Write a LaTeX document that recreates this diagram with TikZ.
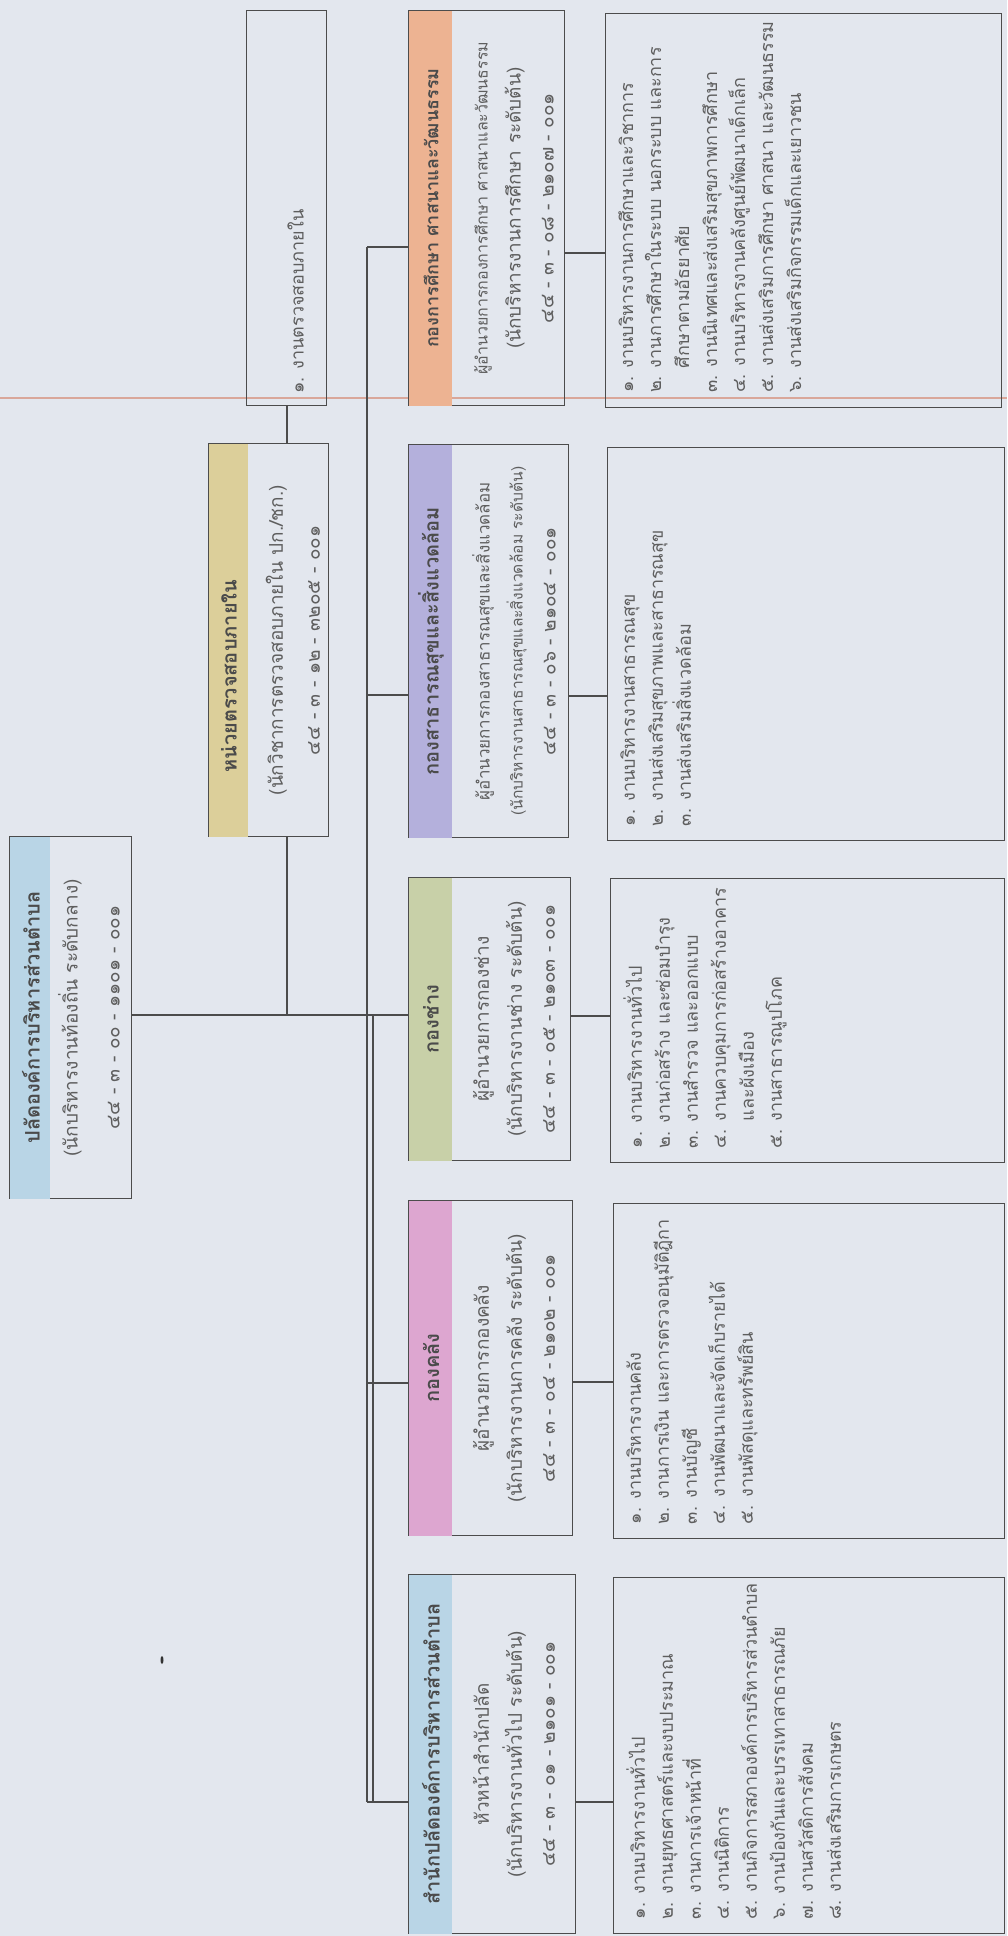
\documentclass[tikz,border=0pt]{standalone}
\usepackage{fontspec}
\newfontfamily\thaifont[Script=Thai]{Loma}
\usetikzlibrary{positioning,calc}

\definecolor{paper}{HTML}{E3E7EE}
\definecolor{ink}{HTML}{5E5E5E}
\definecolor{rule}{HTML}{4C4C4C}
\definecolor{fold}{HTML}{D9A79A}
\definecolor{bandblue}{HTML}{B9D5E6}
\definecolor{bandyellow}{HTML}{DCCF9A}
\definecolor{bandpink}{HTML}{DDA6D0}
\definecolor{bandgreen}{HTML}{C8D0A8}
\definecolor{bandpurple}{HTML}{B4B0DC}
\definecolor{bandorange}{HTML}{EDB392}

\begin{document}
\begin{tikzpicture}[x=0.5pt,y=-0.5pt,
    box/.style={draw=rule, line width=0.7pt, inner sep=0pt, anchor=north west},
    title/.style={rotate=90, font=\thaifont\fontsize{10}{12}\selectfont\bfseries, text=ink!80!black},
    body/.style={rotate=90, font=\thaifont\fontsize{9.5}{16.5}\selectfont, text=ink, align=center},
    tasks/.style={rotate=90, font=\thaifont\fontsize{9}{14}\selectfont, text=ink, align=left, anchor=north west, inner sep=0pt},
    link/.style={draw=rule, line width=0.7pt}]

    \fill[paper] (0,0) rectangle (1007,1936);
    \useasboundingbox (0,0) rectangle (1007,1936);
    \draw[fold, line width=0.6pt] (0,398) -- (1007,398);
    \fill[black!80] (162,1660) ellipse (1.5 and 4);

    % top box
    \node[box, minimum width=61pt, minimum height=181pt] (palat) at (9,836) {};
    \fill[bandblue] ([shift={(0.35pt,-0.35pt)}]palat.north west) rectangle ([shift={(20.5pt,0.35pt)}]palat.south west);
    \node[title] (palatT) at (palat.west -| 31,0) {ปลัดองค์การบริหารส่วนตำบล};
    \node[body, font=\thaifont\fontsize{9.5}{21}\selectfont] (palatB) at (palat.west -| 89,0) {(นักบริหารงานท้องถิ่น ระดับกลาง)\\๔๔ - ๓ - ๐๐ - ๑๑๐๑ - ๐๐๑};

    % internal audit
    \node[box, minimum width=60pt, minimum height=196.5pt] (audit) at (208,443) {};
    \fill[bandyellow] ([shift={(0.35pt,-0.35pt)}]audit.north west) rectangle ([shift={(20pt,0.35pt)}]audit.south west);
    \node[title] (auditT) at ([yshift=-18pt]audit.west -| 229,0) {หน่วยตรวจสอบภายใน};
    \node[body, font=\thaifont\fontsize{9.5}{18.5}\selectfont] (auditB) at (audit.west -| 293,0) {(นักวิชาการตรวจสอบภายใน ปก./ชก.)\\๔๔ - ๓ - ๑๒ - ๓๒๐๕ - ๐๐๑};
    \node[box, minimum width=40pt, minimum height=197.5pt] (auditjob) at (246,10) {};
    \node[tasks] (auditjobT) at ([shift={(14,-12)}]auditjob.south west -| 273,0) {๑. งานตรวจสอบภายใน};

    % departments
    \node[box, minimum width=78pt, minimum height=197.5pt] (edu) at (408,10) {};
    \node[box, minimum width=80pt, minimum height=196.5pt] (health) at (408,444) {};
    \node[box, minimum width=81pt, minimum height=141.5pt] (works) at (408,877) {};
    \node[box, minimum width=82pt, minimum height=167.5pt] (finance) at (408,1200) {};
    \node[box, minimum width=83.5pt, minimum height=179.5pt] (office) at (408,1574) {};

    \fill[bandorange] ([shift={(0.35pt,-0.35pt)}]edu.north west) rectangle ([shift={(22pt,0.35pt)}]edu.south west);
    \fill[bandpurple] ([shift={(0.35pt,-0.35pt)}]health.north west) rectangle ([shift={(22pt,0.35pt)}]health.south west);
    \fill[bandgreen] ([shift={(0.35pt,-0.35pt)}]works.north west) rectangle ([shift={(22pt,0.35pt)}]works.south west);
    \fill[bandpink] ([shift={(0.35pt,-0.35pt)}]finance.north west) rectangle ([shift={(22pt,0.35pt)}]finance.south west);
    \fill[bandblue] ([shift={(0.35pt,-0.35pt)}]office.north west) rectangle ([shift={(22pt,0.35pt)}]office.south west);

    \node[title, font=\thaifont\fontsize{9}{11}\selectfont\bfseries] (eduT) at (edu.west -| 431,0) {กองการศึกษา ศาสนาและวัฒนธรรม};
    \node[body] (eduB) at (edu.west -| 514,0) {{\fontsize{8}{16.5}\selectfont ผู้อำนวยการกองการศึกษา ศาสนาและวัฒนธรรม}\\(นักบริหารงานการศึกษา ระดับต้น)\\๔๔ - ๓ - ๐๘ - ๒๑๐๗ - ๐๐๑};
    \node[title] (healthT) at (health.west -| 431,0) {กองสาธารณสุขและสิ่งแวดล้อม};
    \node[body] (healthB) at (health.west -| 514,0) {{\fontsize{8.5}{16.5}\selectfont ผู้อำนวยการกองสาธารณสุขและสิ่งแวดล้อม}\\{\fontsize{7.8}{16.5}\selectfont (นักบริหารงานสาธารณสุขและสิ่งแวดล้อม ระดับต้น)}\\๔๔ - ๓ - ๐๖ - ๒๑๐๔ - ๐๐๑};
    \node[title] (worksT) at (works.west -| 431,0) {กองช่าง};
    \node[body] (worksB) at (works.west -| 514,0) {ผู้อำนวยการกองช่าง\\(นักบริหารงานช่าง ระดับต้น)\\๔๔ - ๓ - ๐๕ - ๒๑๐๓ - ๐๐๑};
    \node[title] (financeT) at (finance.west -| 431,0) {กองคลัง};
    \node[body] (financeB) at (finance.west -| 514,0) {ผู้อำนวยการกองคลัง\\(นักบริหารงานการคลัง ระดับต้น)\\๔๔ - ๓ - ๐๔ - ๒๑๐๒ - ๐๐๑};
    \node[title] (officeT) at (office.west -| 431,0) {สำนักปลัดองค์การบริหารส่วนตำบล};
    \node[body] (officeB) at (office.west -| 514,0) {หัวหน้าสำนักปลัด\\(นักบริหารงานทั่วไป ระดับต้น)\\๔๔ - ๓ - ๐๑ - ๒๑๐๑ - ๐๐๑};

    % task boxes
    \node[box, minimum width=198pt, minimum height=197pt] (edujob) at (605,13) {};
    \node[box, minimum width=198.5pt, minimum height=196.5pt] (healthjob) at (607,447) {};
    \node[box, minimum width=197pt, minimum height=142pt] (worksjob) at (610,878) {};
    \node[box, minimum width=195.5pt, minimum height=167.5pt] (financejob) at (613,1203) {};
    \node[box, minimum width=195.5pt, minimum height=178pt] (officejob) at (613,1577) {};

    \node[tasks] (edujobT) at ([shift={(13,-15)}]edujob.south west) {๑. งานบริหารงานการศึกษาและวิชาการ\\๒. งานการศึกษาในระบบ นอกระบบ และการ\\\phantom{๒. }ศึกษาตามอัธยาศัย\\๓. งานนิเทศและส่งเสริมสุขภาพการศึกษา\\๔. งานบริหารงานคลังศูนย์พัฒนาเด็กเล็ก\\๕. งานส่งเสริมการศึกษา ศาสนา และวัฒนธรรม\\๖. งานส่งเสริมกิจกรรมเด็กและเยาวชน};
    \node[tasks] (healthjobT) at ([shift={(13,-15)}]healthjob.south west) {๑. งานบริหารงานสาธารณสุข\\๒. งานส่งเสริมสุขภาพและสาธารณสุข\\๓. งานส่งเสริมสิ่งแวดล้อม};
    \node[tasks] (worksjobT) at ([shift={(13,-15)}]worksjob.south west) {๑. งานบริหารงานทั่วไป\\๒. งานก่อสร้าง และซ่อมบำรุง\\๓. งานสำรวจ และออกแบบ\\๔. งานควบคุมการก่อสร้างอาคาร\\\phantom{๔. }และผังเมือง\\๕. งานสาธารณูปโภค};
    \node[tasks] (financejobT) at ([shift={(13,-15)}]financejob.south west) {๑. งานบริหารงานคลัง\\๒. งานการเงิน และการตรวจอนุมัติฎีกา\\๓. งานบัญชี\\๔. งานพัฒนาและจัดเก็บรายได้\\๕. งานพัสดุและทรัพย์สิน};
    \node[tasks] (officejobT) at ([shift={(13,-15)}]officejob.south west) {๑. งานบริหารงานทั่วไป\\๒. งานยุทธศาสตร์และงบประมาณ\\๓. งานการเจ้าหน้าที่\\๔. งานนิติการ\\๕. งานกิจการสภาองค์การบริหารส่วนตำบล\\๖. งานป้องกันและบรรเทาสาธารณภัย\\๗. งานสวัสดิการสังคม\\๘. งานส่งเสริมการเกษตร};

    % connectors
    \coordinate (bustop) at (367,247);
    \coordinate (busbot) at (367,1802);
    \coordinate (trunk) at (367,1015);
    \coordinate (auditdrop) at (287,1015);
    \draw[link] (bustop) -- (busbot);
    \draw[link] (373,1015) -- (373,1802);
    \draw[link] (palat.east |- trunk) -- (trunk);
    \draw[link] (audit.south -| auditdrop) -- (auditdrop);
    \draw[link] (auditjob.south -| auditdrop) -- (audit.north -| auditdrop);
    \foreach \d/\y/\z in {edu/247/253, health/695/696, works/1015/1016, finance/1383/1382, office/1802/1802} {
        \draw[link] (367,\y) -- (\d.west |- 0,\y);
        \draw[link] (\d.east |- 0,\z) -- (\d job.west |- 0,\z);
    }
\end{tikzpicture}
\end{document}
